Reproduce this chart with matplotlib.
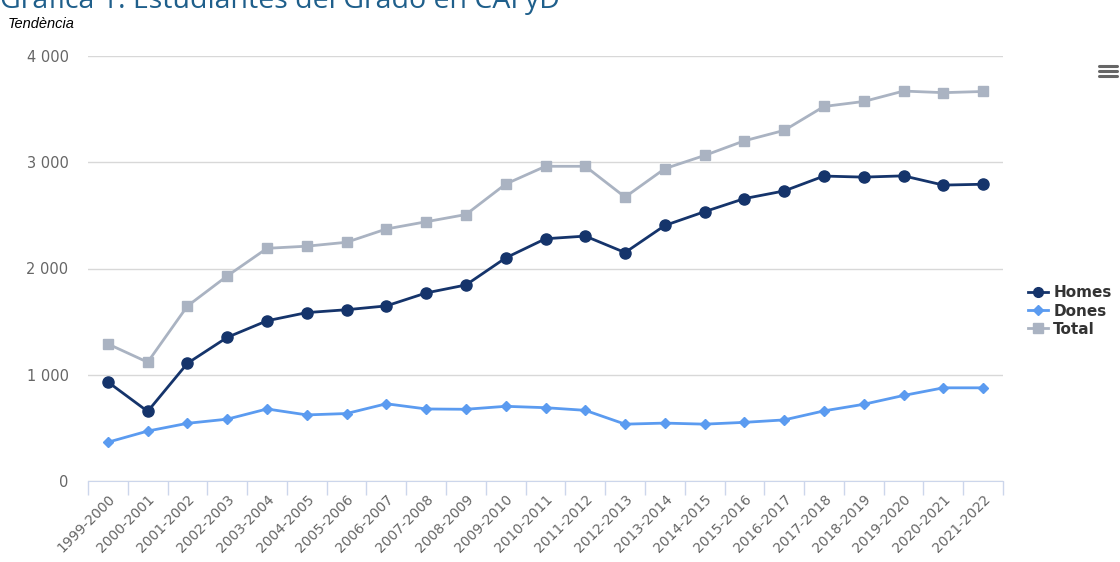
import matplotlib
matplotlib.use("Agg")
import matplotlib.pyplot as plt
import numpy as np
from matplotlib.lines import Line2D

cursos = ["1999-2000", "2000-2001", "2001-2002", "2002-2003", "2003-2004", "2004-2005",
          "2005-2006", "2006-2007", "2007-2008", "2008-2009", "2009-2010", "2010-2011",
          "2011-2012", "2012-2013", "2013-2014", "2014-2015", "2015-2016", "2016-2017",
          "2017-2018", "2018-2019", "2019-2020", "2020-2021", "2021-2022"]
homes = [932, 655, 1108, 1352, 1508, 1585, 1612, 1648, 1770, 1845, 2100, 2280, 2305,
         2150, 2405, 2535, 2658, 2730, 2870, 2860, 2872, 2785, 2793]
dones = [365, 470, 543, 582, 678, 622, 635, 727, 678, 675, 703, 690, 665,
         535, 545, 535, 552, 575, 660, 722, 805, 877, 877]
total = [1290, 1118, 1647, 1930, 2190, 2210, 2247, 2372, 2440, 2508, 2795, 2962, 2962,
         2672, 2940, 3064, 3202, 3300, 3525, 3572, 3670, 3655, 3666]

c_homes = "#15346b"
c_dones = "#5b9bf0"
c_total = "#aab3c2"

fig = plt.figure(figsize=(11.2, 5.62), dpi=100)
ax = fig.add_axes([88/1120, 1-481/562, (1003-88)/1120, (481-56)/562])

x = np.arange(len(cursos))
ax.plot(x, total, color=c_total, lw=2, marker="s", ms=7.5, label="Total", zorder=3)
ax.plot(x, homes, color=c_homes, lw=2, marker="o", ms=8, label="Homes", zorder=4)
ax.plot(x, dones, color=c_dones, lw=2, marker="D", ms=5.5, label="Dones", zorder=3)

ax.set_xlim(-0.5, len(cursos) - 0.5)
ax.set_ylim(0, 4000)
ax.set_yticks([0, 1000, 2000, 3000, 4000])
ax.set_yticklabels(["0", "1 000", "2 000", "3 000", "4 000"], color="#666666", fontsize=10.5)
ax.tick_params(axis="y", length=0, pad=14)
ax.grid(axis="y", color="#d8d8d8", lw=1)
ax.set_axisbelow(True)

# ticks between categories, labels at centres
ax.set_xticks(np.arange(-0.5, len(cursos), 1.0))
ax.set_xticklabels([])
ax.tick_params(axis="x", length=10, color="#ccd6eb", width=1)
ax.set_xticks(x, minor=True)
ax.set_xticklabels(cursos, minor=True, rotation=45, ha="right", rotation_mode="anchor",
                   fontsize=10, color="#666666")
ax.tick_params(axis="x", which="minor", length=0, pad=8)

for s in ["top", "right", "left"]:
    ax.spines[s].set_visible(False)
ax.spines["bottom"].set_color("#ccd6eb")

handles = [Line2D([], [], color=c_homes, lw=2, marker="o", ms=7),
           Line2D([], [], color=c_dones, lw=2, marker="D", ms=5),
           Line2D([], [], color=c_total, lw=2, marker="s", ms=6.5)]
fig.legend(handles, ["Homes", "Dones", "Total"], loc="center left",
           bbox_to_anchor=(1028/1120, 1-311/562), frameon=False, handlelength=1.3,
           handletextpad=0.35, labelspacing=0.2, borderpad=0, borderaxespad=0,
           prop={"weight": "bold", "size": 11}, labelcolor="#333333")

fig.text(0.0, 1-8/562, "Gráfica 1. Estudiantes del Grado en CAFyD", fontsize=20.5,
         color="#1f5f8b", family="Open Sans", va="baseline", ha="left")
fig.text(8/1120, 1-28/562, "Tendència", fontsize=10.5, style="italic",
         family="Liberation Sans", va="baseline", ha="left")

# menu icon
for yy in [66, 71, 76]:
    fig.add_artist(Line2D([1099/1120, 1117/1120], [1-yy/562, 1-yy/562], color="#666666",
                          lw=2.2, solid_capstyle="round"))

fig.savefig("out.png", dpi=100)
